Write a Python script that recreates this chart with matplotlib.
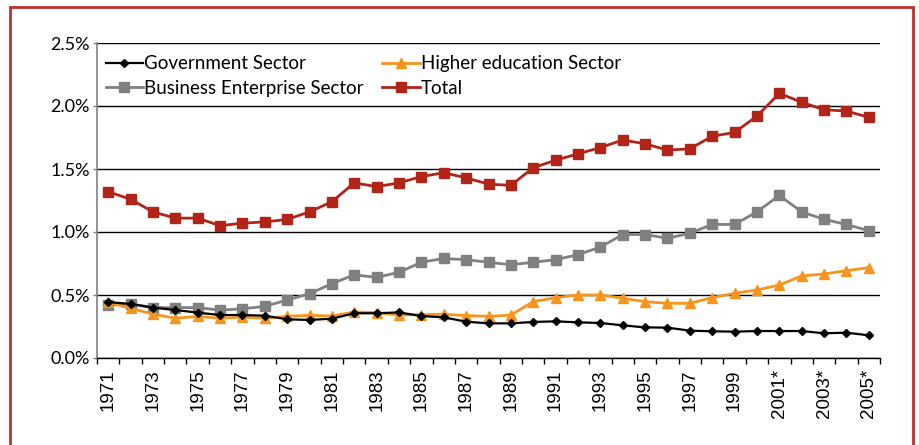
import matplotlib
matplotlib.use("Agg")
import matplotlib.pyplot as plt
from matplotlib.patches import Rectangle
from matplotlib.ticker import FuncFormatter

years = list(range(1971, 2006))
tick_labels = [str(y) + ("*" if y >= 2001 else "") for y in years]

government = [0.444, 0.429, 0.400, 0.381, 0.360, 0.341, 0.341, 0.336, 0.307, 0.302,
              0.312, 0.355, 0.355, 0.362, 0.333, 0.323, 0.288, 0.275, 0.275, 0.286,
              0.291, 0.283, 0.278, 0.259, 0.243, 0.241, 0.217, 0.212, 0.209, 0.214,
              0.214, 0.214, 0.196, 0.201, 0.180]
higher_ed = [0.444, 0.394, 0.349, 0.315, 0.331, 0.315, 0.325, 0.315, 0.331, 0.339,
             0.333, 0.365, 0.360, 0.341, 0.344, 0.347, 0.336, 0.331, 0.341, 0.447,
             0.479, 0.500, 0.500, 0.474, 0.447, 0.434, 0.434, 0.479, 0.513, 0.540,
             0.579, 0.651, 0.667, 0.693, 0.717]
business = [0.42, 0.43, 0.40, 0.40, 0.40, 0.38, 0.39, 0.41, 0.46, 0.51,
            0.59, 0.66, 0.64, 0.68, 0.76, 0.79, 0.78, 0.76, 0.74, 0.76,
            0.78, 0.82, 0.88, 0.98, 0.98, 0.95, 0.99, 1.06, 1.06, 1.16,
            1.29, 1.16, 1.10, 1.06, 1.01]
total = [1.32, 1.26, 1.16, 1.11, 1.11, 1.05, 1.07, 1.08, 1.10, 1.16,
         1.24, 1.39, 1.36, 1.39, 1.44, 1.47, 1.43, 1.38, 1.37, 1.51,
         1.57, 1.62, 1.67, 1.73, 1.70, 1.65, 1.66, 1.76, 1.79, 1.92,
         2.10, 2.03, 1.97, 1.96, 1.91]

FONT = "Lato"
fig = plt.figure(figsize=(9.19, 4.45), dpi=100)
ax = fig.add_axes([97/919, 1-358/445, (880-97)/919, (358-43)/445])

x = list(range(len(years)))
l_gov, = ax.plot(x, government, color="#000000", lw=1.6, marker="D", ms=4.5, zorder=5)
l_bus, = ax.plot(x, business, color="#808080", lw=2.0, marker="s", ms=7, zorder=3)
l_hed, = ax.plot(x, higher_ed, color="#F7941D", lw=2.0, marker="^", ms=7, zorder=4)
l_tot, = ax.plot(x, total, color="#B22418", lw=2.0, marker="s", ms=7, zorder=3)

ax.set_xlim(-0.5, len(years) - 0.5)
ax.set_ylim(0, 2.5)
ax.set_yticks([0, 0.5, 1.0, 1.5, 2.0, 2.5])
ax.yaxis.set_major_formatter(FuncFormatter(lambda v, p: f"{v:.1f}%"))
ax.yaxis.grid(True, color="black", lw=1.0)
ax.set_axisbelow(True)

ax.set_xticks([i - 0.5 for i in range(len(years) + 1)])
ax.set_xticklabels([])
ax.set_xticks(x[::2], minor=True)
ax.set_xticklabels(tick_labels[::2], minor=True, rotation=90,
                   fontsize=13.5, family="Liberation Sans")
ax.tick_params(axis="x", which="major", length=4, width=1, color="black", direction="out")
ax.tick_params(axis="x", which="minor", length=0, pad=8)
ax.tick_params(axis="y", length=3, width=1, color="#808080", labelsize=13, pad=2)
for lab in ax.get_yticklabels():
    lab.set_family(FONT)

for s in ["top", "right"]:
    ax.spines[s].set_visible(False)
ax.spines["left"].set_color("#808080")
ax.spines["left"].set_linewidth(1.2)
ax.spines["bottom"].set_color("black")
ax.spines["bottom"].set_linewidth(1.0)

leg = ax.legend([l_gov, l_bus, l_hed, l_tot],
                ["Government Sector", "Business Enterprise Sector",
                 "Higher education Sector", "Total"],
                ncol=2, loc="upper left", bbox_to_anchor=(-0.008, 1.008),
                frameon=True, framealpha=1, edgecolor="none",
                prop={"family": FONT, "size": 13.5}, handlelength=2.0,
                handletextpad=0.05, columnspacing=1.0, labelspacing=0.4,
                borderpad=0.2, borderaxespad=0.6)

# red frame around the figure
fig.patches.append(Rectangle((10/919, -0.05), (913-10)/919, 1.05 - 7.5/445,
                             transform=fig.transFigure, fill=False,
                             edgecolor="#C0302A", lw=2.0, zorder=10))

fig.savefig("out.png", dpi=100)
